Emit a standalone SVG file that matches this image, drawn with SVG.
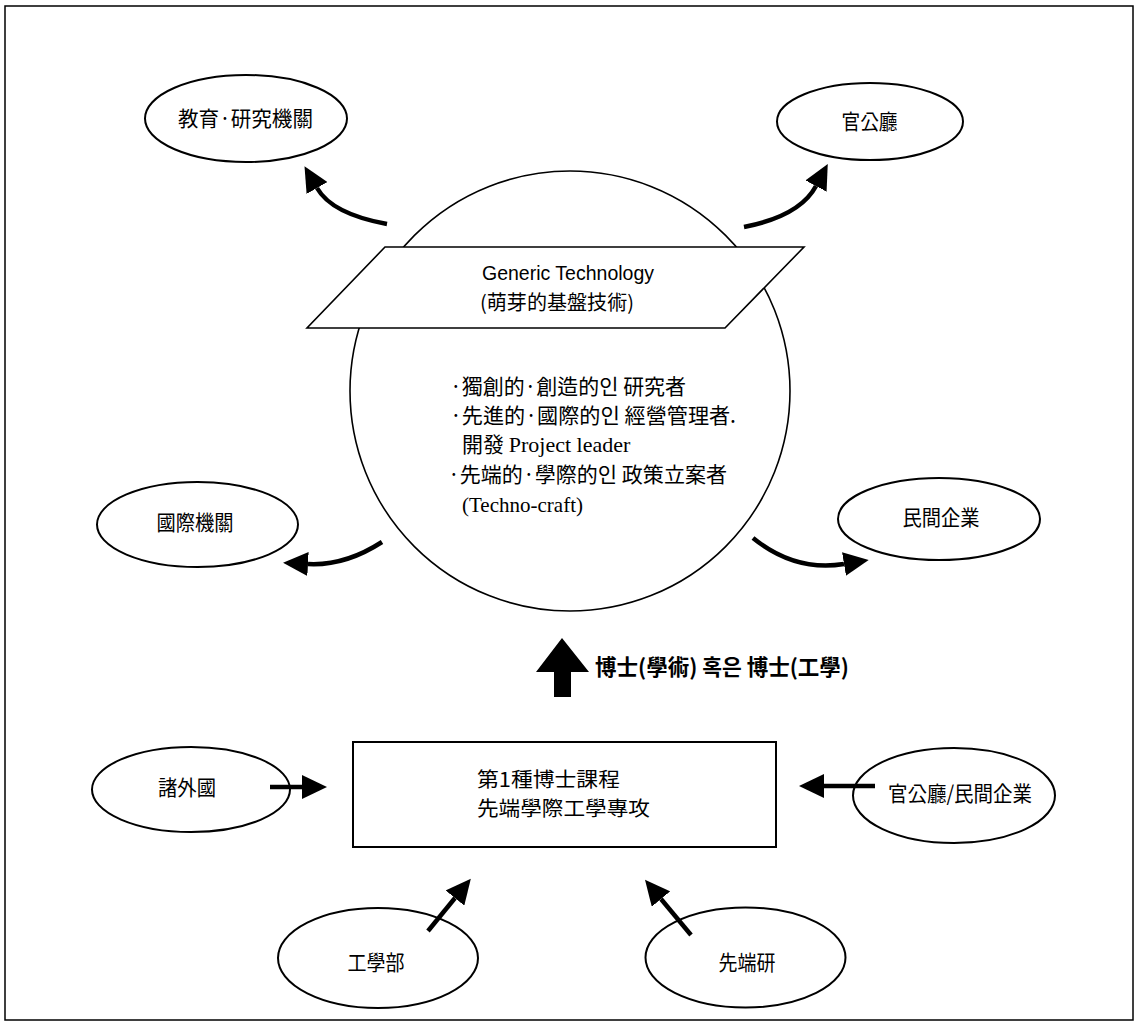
<svg xmlns="http://www.w3.org/2000/svg" width="1138" height="1032" viewBox="0 0 1138 1032">
<style>
.bg{fill:#ffffff}
.frame{fill:none;stroke:#000;stroke-width:1.5}
.node{fill:#fff;stroke:#000;stroke-width:2}
.thin{fill:none;stroke:#000;stroke-width:1.6}
.para{fill:#fff;stroke:#000;stroke-width:1.6}
.box{fill:#fff;stroke:#000;stroke-width:2}
.cjk{font-family:"Noto Sans CJK KR","Noto Sans CJK TC",sans-serif;fill:#000}
.lat{font-family:"Liberation Sans",Arial,sans-serif;fill:#000}
.ser{font-family:"Liberation Serif","Times New Roman",serif}
.lbl{font-size:21px;text-anchor:middle}
.conn{fill:none;stroke:#000;stroke-width:4.5}
</style>
<defs>
<marker id="head" markerUnits="userSpaceOnUse" viewBox="0 0 25 24" markerWidth="25" markerHeight="24" refX="0" refY="12" orient="auto">
<path d="M0,0 L25,12 L0,24 z" fill="#000"/>
</marker>
</defs>
<rect class="bg" x="0" y="0" width="1138" height="1032"/>
<rect class="frame" x="5" y="6" width="1128" height="1014"/>

<g id="core">
<circle class="thin" cx="570" cy="391" r="220"/>
<polygon class="para" points="385,247 804,247 725,328 307,328"/>
<text class="lat" x="482" y="280" font-size="21" textLength="172" lengthAdjust="spacingAndGlyphs">Generic  Technology</text>
<text class="cjk" x="480" y="310" font-size="20" textLength="154" lengthAdjust="spacingAndGlyphs">(萌芽的基盤技術)</text>
<text class="cjk" font-size="21" lengthAdjust="spacingAndGlyphs"><tspan x="450" y="394" textLength="236" lengthAdjust="spacingAndGlyphs">·獨創的·創造的인 研究者</tspan><tspan x="450" y="423" textLength="286" lengthAdjust="spacingAndGlyphs">·先進的·國際的인 經營管理者.</tspan><tspan x="462" y="452">開發 </tspan><tspan class="ser" font-size="22">Project  leader</tspan><tspan x="448" y="482" textLength="279" lengthAdjust="spacingAndGlyphs">·先端的·學際的인 政策立案者</tspan><tspan class="ser" x="462" y="512" font-size="22" textLength="121" lengthAdjust="spacingAndGlyphs">(Techno-craft)</tspan></text>
</g>

<g id="n-edu">
<ellipse class="node" cx="246" cy="118.5" rx="101" ry="43.5"/>
<text class="cjk lbl" x="245.5" y="126" textLength="135" lengthAdjust="spacingAndGlyphs">教育·研究機關</text>
</g>
<g id="n-gov">
<ellipse class="node" cx="870" cy="121.5" rx="93" ry="38.5"/>
<text class="cjk lbl" x="869.5" y="129" textLength="56" lengthAdjust="spacingAndGlyphs">官公廳</text>
</g>
<g id="n-intl">
<ellipse class="node" cx="197.5" cy="524.5" rx="100.5" ry="42.5"/>
<text class="cjk lbl" x="195" y="530" textLength="77" lengthAdjust="spacingAndGlyphs">國際機關</text>
</g>
<g id="n-priv">
<ellipse class="node" cx="939" cy="519" rx="101" ry="41"/>
<text class="cjk lbl" x="941" y="525" textLength="77" lengthAdjust="spacingAndGlyphs">民間企業</text>
</g>
<g id="n-foreign">
<ellipse class="node" cx="191" cy="789.5" rx="99" ry="42.5"/>
<text class="cjk lbl" x="187" y="795" textLength="58" lengthAdjust="spacingAndGlyphs">諸外國</text>
</g>
<g id="n-govpriv">
<ellipse class="node" cx="954" cy="795.5" rx="101" ry="47.5"/>
<text class="cjk lbl" x="960" y="801" textLength="144" lengthAdjust="spacingAndGlyphs">官公廳/民間企業</text>
</g>
<g id="n-eng">
<ellipse class="node" cx="378" cy="958" rx="100" ry="50"/>
<text class="cjk lbl" x="376" y="970" textLength="57" lengthAdjust="spacingAndGlyphs">工學部</text>
</g>
<g id="n-rcast">
<ellipse class="node" cx="745.5" cy="957.5" rx="100" ry="50"/>
<text class="cjk lbl" x="747" y="970" textLength="57" lengthAdjust="spacingAndGlyphs">先端研</text>
</g>
<g id="n-course">
<rect class="box" x="353" y="742" width="423" height="105"/>
<text class="cjk" x="477" y="787" font-size="20" textLength="143" lengthAdjust="spacingAndGlyphs">第1種博士課程</text>
<text class="cjk" x="477" y="816" font-size="20" textLength="173" lengthAdjust="spacingAndGlyphs">先端學際工學專攻</text>
</g>

<g id="connectors">
<path class="conn" d="M387,224 Q332,214 317,188" marker-end="url(#head)"/>
<path class="conn" d="M744,227 Q800,216 816,186" marker-end="url(#head)"/>
<path class="conn" d="M382,542 Q345,566 308,564" marker-end="url(#head)"/>
<path class="conn" d="M753,538 Q795,572 844,564" marker-end="url(#head)"/>
<path class="conn" d="M270,787 L302,787" marker-end="url(#head)"/>
<path class="conn" d="M875,786 L824,786" marker-end="url(#head)"/>
<path class="conn" d="M428,931 L455,898" marker-end="url(#head)"/>
<path class="conn" d="M691,935 L661,899" marker-end="url(#head)"/>
<polygon points="562,638 589,672 571,672 571,697 554,697 554,672 536,672" fill="#000"/>
<text class="cjk" x="595" y="675" font-size="22" font-weight="bold" textLength="254" lengthAdjust="spacingAndGlyphs">博士(學術) 혹은 博士(工學)</text>
</g>
</svg>
